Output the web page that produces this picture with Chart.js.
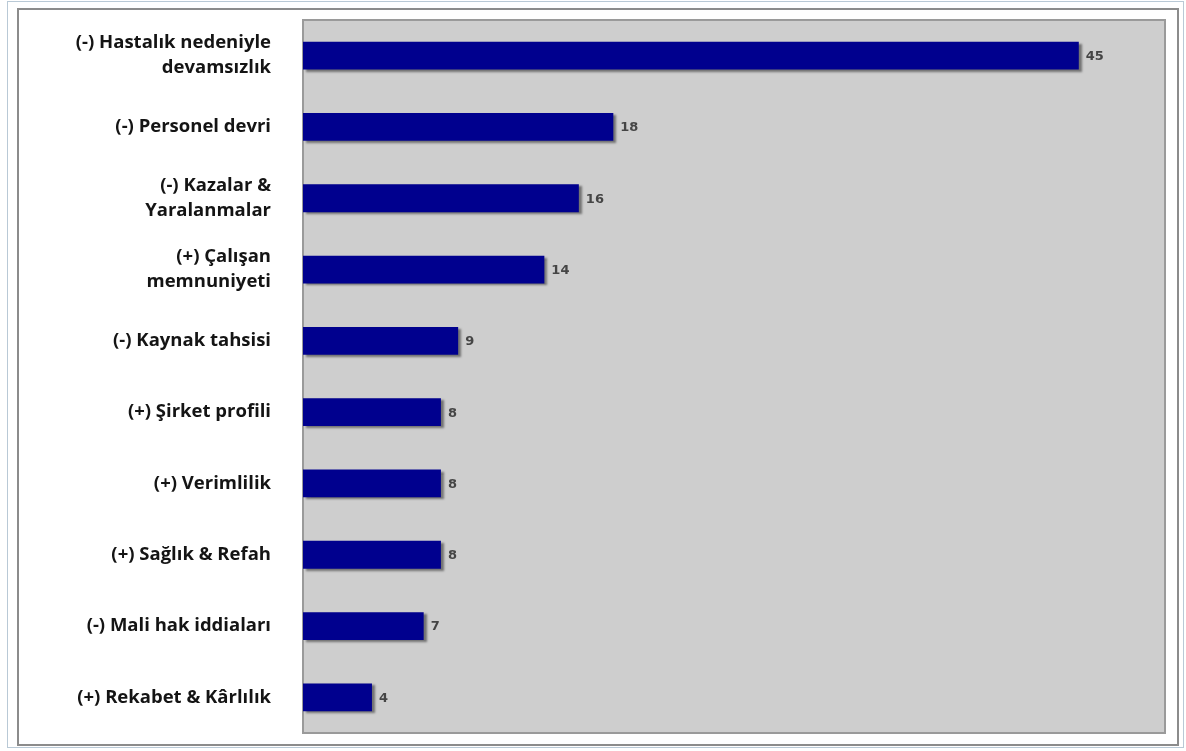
<!DOCTYPE html>
<html>
<head>
<meta charset="utf-8">
<script src="https://cdn.jsdelivr.net/npm/chart.js@4.4.1/dist/chart.umd.min.js"></script>
<style>
  html, body { margin: 0; padding: 0; background: #ffffff; }
  #wrap { width: 1186px; height: 751px; position: relative; }
</style>
</head>
<body>
<div id="wrap"><canvas id="c" width="1186" height="751"></canvas></div>
<script>
const categories = [
  ["(-) Hastalık nedeniyle", "devamsızlık"],
  "(-) Personel devri",
  ["(-) Kazalar &", "Yaralanmalar"],
  ["(+) Çalışan", "memnuniyeti"],
  "(-) Kaynak tahsisi",
  "(+) Şirket profili",
  "(+) Verimlilik",
  "(+) Sağlık & Refah",
  "(-) Mali hak iddiaları",
  "(+) Rekabet & Kârlılık"
];
const values = [45, 18, 16, 14, 9, 8, 8, 8, 7, 4];
const axisMin = 0;
const axisMax = 50;

const framePlugin = {
  id: 'frame',
  beforeDraw(chart) {
    const ctx = chart.ctx;
    const a = chart.chartArea;
    ctx.save();
    ctx.fillStyle = '#ffffff';
    ctx.fillRect(0, 0, chart.width, chart.height);
    ctx.strokeStyle = '#8c8c8c';
    ctx.lineWidth = 2;
    ctx.strokeRect(18, 9, 1160, 736);
    ctx.strokeStyle = '#b9c9d6';
    ctx.lineWidth = 1;
    ctx.strokeRect(7.5, 1.5, 1176, 746);
    ctx.fillStyle = '#cecece';
    ctx.fillRect(a.left, a.top, a.right - a.left, a.bottom - a.top);
    ctx.strokeStyle = '#9a9a9a';
    ctx.lineWidth = 2;
    ctx.strokeRect(a.left, a.top, a.right - a.left, a.bottom - a.top);
    ctx.restore();
  }
};

const shadowPlugin = {
  id: 'barShadow',
  beforeDatasetsDraw(chart) {
    const ctx = chart.ctx;
    ctx.save();
    ctx.shadowColor = 'rgba(40,40,40,0.55)';
    ctx.shadowOffsetX = 3;
    ctx.shadowOffsetY = 2;
    ctx.shadowBlur = 2;
  },
  afterDatasetsDraw(chart) {
    chart.ctx.restore();
  }
};

const valueLabelPlugin = {
  id: 'valueLabels',
  afterDatasetsDraw(chart) {
    const ctx = chart.ctx;
    const meta = chart.getDatasetMeta(0);
    ctx.save();
    ctx.font = 'bold 13px "DejaVu Sans", Verdana, sans-serif';
    ctx.fillStyle = '#454545';
    ctx.textAlign = 'left';
    ctx.textBaseline = 'middle';
    meta.data.forEach((bar, i) => {
      ctx.fillText(String(values[i]), bar.x + 7, bar.y + 1);
    });
    ctx.restore();
  }
};

new Chart(document.getElementById('c'), {
  type: 'bar',
  data: {
    labels: categories,
    datasets: [{
      data: values,
      backgroundColor: '#00008e',
      borderWidth: 0,
      categoryPercentage: 1.0,
      barPercentage: 0.39
    }]
  },
  options: {
    indexAxis: 'y',
    responsive: false,
    animation: false,
    devicePixelRatio: 1,
    layout: { padding: { top: 20, bottom: 18, right: 21, left: 0 } },
    plugins: {
      legend: { display: false },
      tooltip: { enabled: false }
    },
    scales: {
      x: {
        min: axisMin,
        max: axisMax,
        display: false
      },
      y: {
        grid: { display: false, drawTicks: false },
        border: { display: false },
        ticks: {
          color: '#141414',
          font: { family: '"Open Sans", Lato, sans-serif', size: 18.5, weight: 'bold', lineHeight: 1.35 },
          padding: 32
        },
        afterFit(scale) {
          scale.width = 303;
          scale.paddingTop = 0;
          scale.paddingBottom = 0;
        }
      }
    }
  },
  plugins: [framePlugin, shadowPlugin, valueLabelPlugin]
});
</script>
</body>
</html>
